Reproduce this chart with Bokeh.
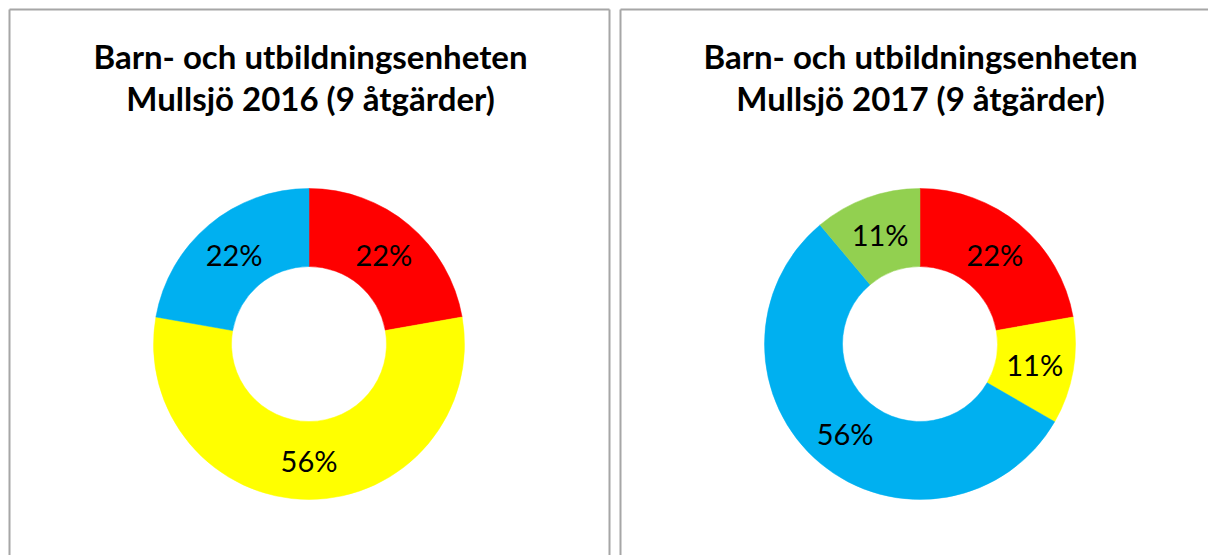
import math
from bokeh.plotting import figure
from bokeh.models import Range1d, ColumnDataSource
from bokeh.core.properties import value
from bokeh.embed import file_html
from bokeh.resources import INLINE

# ---- data ----
categories = ["Röd", "Gul", "Blå", "Grön"]
colors = ["#FF0000", "#FFFF00", "#00B0F0", "#92D050"]
counts_2016 = [2, 5, 2, 0]
counts_2017 = [2, 1, 5, 1]
titles_2016 = ["Barn- och utbildningsenheten", "Mullsjö 2016 (9 åtgärder)"]
titles_2017 = ["Barn- och utbildningsenheten", "Mullsjö 2017 (9 åtgärder)"]

W, H = 1208, 555
p = figure(width=W, height=H, output_backend="svg", toolbar_location=None,
           x_range=Range1d(0, W), y_range=Range1d(0, H), min_border=0)
p.axis.visible = False
p.grid.visible = False
p.outline_line_color = None
p.background_fill_color = "white"
p.border_fill_color = "white"

def Y(page_y):
    return H - page_y

def X(page_x):
    return page_x

# panel borders
border = "#A6A6A6"
p.segment(x0=[X(9), X(9), X(609)], y0=[Y(570), Y(9), Y(9)],
          x1=[X(9), X(609), X(609)], y1=[Y(9), Y(9), Y(570)],
          line_color=border, line_width=2)
p.segment(x0=[X(620), X(620)], y0=[Y(570), Y(9)],
          x1=[X(620), X(1230)], y1=[Y(9), Y(9)],
          line_color=border, line_width=2)

def donut(cx_page, cy_page, counts, titles, tcx_page):
    total = sum(counts)
    cx, cy = X(cx_page), Y(cy_page)
    starts, ends, cols, lx, ly, labs = [], [], [], [], [], []
    cum = 0
    r_in, r_out = 77.5, 155.5
    r_lab = (r_in + r_out) / 2
    for c, col in zip(counts, colors):
        if c == 0:
            continue
        a0 = math.pi / 2 - 2 * math.pi * cum / total
        a1 = math.pi / 2 - 2 * math.pi * (cum + c) / total
        starts.append(a0)
        ends.append(a1)
        cols.append(col)
        am = (a0 + a1) / 2
        lx.append(cx + r_lab * math.cos(am))
        ly.append(cy + r_lab * math.sin(am))
        labs.append(f"{round(100 * c / total)}%")
        cum += c
    src = ColumnDataSource(dict(start=starts, end=ends, color=cols))
    p.annular_wedge(x=cx, y=cy, inner_radius=r_in, outer_radius=r_out,
                    inner_radius_units="screen", outer_radius_units="screen",
                    start_angle="start", end_angle="end", direction="clock",
                    fill_color="color", line_color="color", line_width=0.5,
                    source=src)
    p.text(x=lx, y=ly, text=labs, text_align="center", text_baseline="middle",
           text_font=value("Lato"), text_font_size="29px", text_color="black")
    p.text(x=[X(tcx_page)] * 2, y=[Y(55), Y(97)], text=titles,
           text_align="center", text_baseline="middle",
           text_font=value("Lato"), text_font_style="bold",
           text_font_size="33px", text_color="black")

donut(308.5, 343.5, counts_2016, titles_2016, 310)
donut(919.5, 343.5, counts_2017, titles_2017, 920)

open("out.html", "w").write(file_html(p, INLINE))
